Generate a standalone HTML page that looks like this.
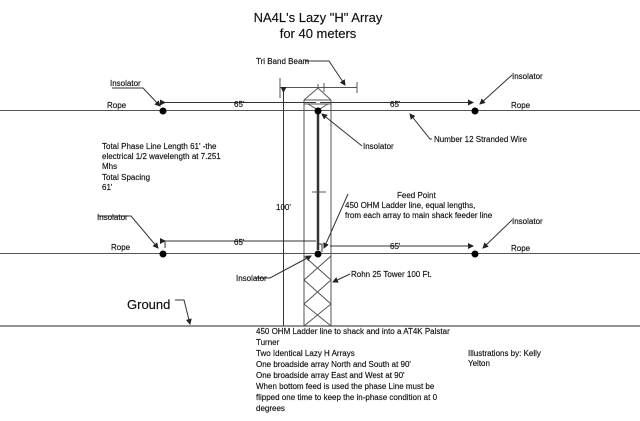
<!DOCTYPE html>
<html><head><meta charset="utf-8"><style>
html,body{margin:0;padding:0;background:#fff;}
svg{display:block;}
text{font-family:"Liberation Sans",Arial,sans-serif;fill:#111;stroke:#111;stroke-width:0.15;}
.s{font-size:8px;}
</style></head><body>
<svg width="640" height="421" viewBox="0 0 640 421" xmlns="http://www.w3.org/2000/svg">
<defs><marker id="a" markerWidth="6" markerHeight="6" refX="5" refY="3" orient="auto"><path d="M0,0 L6,3 L0,6 z" fill="#222"/></marker></defs>
<g stroke="#555" stroke-width="1" fill="none">
<line x1="0" y1="110.5" x2="640" y2="110.5"/>
<line x1="0" y1="253.5" x2="640" y2="253.5"/>
<line x1="0" y1="326" x2="640" y2="326" stroke-width="1.3"/>
<line x1="304" y1="100" x2="304" y2="326"/>
<line x1="331" y1="100" x2="331" y2="326"/>
<path d="M304,100 L318,88 L331,100 M304,100 L331,100 M304,104 L331,104 M308,104 L318,110 L328,104"/>
<path d="M304,256 L331,280 L304,304 L331,326 M331,256 L304,280 L331,304 L304,326"/>
<line x1="280" y1="87.5" x2="357" y2="87.5"/>
<line x1="280" y1="78" x2="280" y2="98"/>
<line x1="357" y1="82" x2="357" y2="93"/>
<line x1="318" y1="84" x2="318" y2="88"/>
<line x1="324" y1="83" x2="324" y2="92"/>
<line x1="283.5" y1="92" x2="283.5" y2="326" marker-start="url(#a)" stroke="#333"/>
<line x1="165" y1="102.5" x2="316" y2="102.5" stroke="#333" marker-start="url(#a)"/>
<line x1="320" y1="102.5" x2="473" y2="102.5" stroke="#333" marker-end="url(#a)"/>
<line x1="165" y1="241" x2="316" y2="241" stroke="#333" marker-start="url(#a)"/>
<line x1="330" y1="246" x2="473" y2="246" stroke="#333" marker-end="url(#a)"/>
<line x1="165" y1="241" x2="165" y2="248" stroke="#333"/>
<path d="M112,88 L143,88 L160,106" stroke="#333" marker-end="url(#a)"/>
<path d="M512,75 L480,104" stroke="#333" marker-end="url(#a)"/>
<path d="M305,61 L329,61 L345,85" stroke="#333" marker-end="url(#a)"/>
<path d="M362,146 L322,114" stroke="#333" marker-end="url(#a)"/>
<path d="M432,139 L430,139 L410,114" stroke="#333" marker-end="url(#a)"/>
<path d="M348,194 L324,248" stroke="#333" marker-end="url(#a)"/>
<path d="M98,216 L131,216 L158,248" stroke="#333" marker-end="url(#a)"/>
<path d="M512,220 L483,248" stroke="#333" marker-end="url(#a)"/>
<path d="M255,278 L270,278 L311,256" stroke="#333" marker-end="url(#a)"/>
<path d="M350,274 L333,282" stroke="#333" marker-end="url(#a)"/>
<path d="M175,300 L184,300 L190,324" stroke="#333" marker-end="url(#a)"/>
</g>
<line x1="318" y1="112" x2="318" y2="250" stroke="#333" stroke-width="2.5"/>
<line x1="312" y1="192" x2="326" y2="192" stroke="#555"/>
<path d="M318,244 L322,244 L322,252" stroke="#333" fill="none"/>
<g fill="#000">
<circle cx="163" cy="111" r="3.5"/><circle cx="318" cy="111" r="3.5"/><circle cx="475" cy="111" r="3.5"/>
<circle cx="163" cy="254" r="3.5"/><circle cx="318" cy="254" r="3.5"/><circle cx="475" cy="254" r="3.5"/>
</g>
<text x="318" y="22" font-size="13" text-anchor="middle">NA4L's Lazy "H" Array</text>
<text x="318" y="38" font-size="13" text-anchor="middle">for 40 meters</text>
<text x="256" y="64" class="s">Tri Band Beam</text>
<text x="110" y="86" class="s">Insolator</text>
<text x="512" y="79" class="s">Insolator</text>
<text x="107" y="108" class="s">Rope</text>
<text x="511" y="108" class="s">Rope</text>
<text x="234" y="107" class="s">65'</text>
<text x="390" y="107" class="s">65'</text>
<text x="363" y="149" class="s">Insolator</text>
<text x="434" y="142" class="s">Number 12 Stranded Wire</text>
<text x="102" y="149" class="s">Total Phase Line Length 61' -the</text>
<text x="102" y="159" class="s">electrical 1/2 wavelength at 7.251</text>
<text x="102" y="169" class="s">Mhs</text>
<text x="102" y="180" class="s">Total Spacing</text>
<text x="102" y="190" class="s">61'</text>
<text x="397" y="198" class="s">Feed Point</text>
<text x="345" y="208" class="s">450 OHM Ladder line, equal lengths,</text>
<text x="345" y="218" class="s">from each array to main shack feeder line</text>
<text x="276" y="210" class="s">100'</text>
<text x="97" y="220" class="s">Insolator</text>
<text x="512" y="224" class="s">Insolator</text>
<text x="111" y="250" class="s">Rope</text>
<text x="511" y="251" class="s">Rope</text>
<text x="234" y="245" class="s">65'</text>
<text x="390" y="249" class="s">65'</text>
<text x="236" y="281" class="s">Insolator</text>
<text x="351" y="277" class="s">Rohn 25 Tower 100 Ft.</text>
<text x="127" y="309" font-size="13">Ground</text>
<text x="256" y="334" class="s">450 OHM Ladder line to shack and into a AT4K Palstar</text>
<text x="256" y="345" class="s">Turner</text>
<text x="256" y="356" class="s">Two Identical Lazy H Arrays</text>
<text x="256" y="367" class="s">One broadside array North and South at 90'</text>
<text x="256" y="378" class="s">One broadside array East and West at 90'</text>
<text x="256" y="389" class="s">When bottom feed is used the phase Line must be</text>
<text x="256" y="400" class="s">flipped one time to keep the in-phase condition at 0</text>
<text x="256" y="411" class="s">degrees</text>
<text x="468" y="356" class="s">Illustrations by: Kelly</text>
<text x="468" y="366" class="s">Yelton</text>
</svg>
</body></html>
